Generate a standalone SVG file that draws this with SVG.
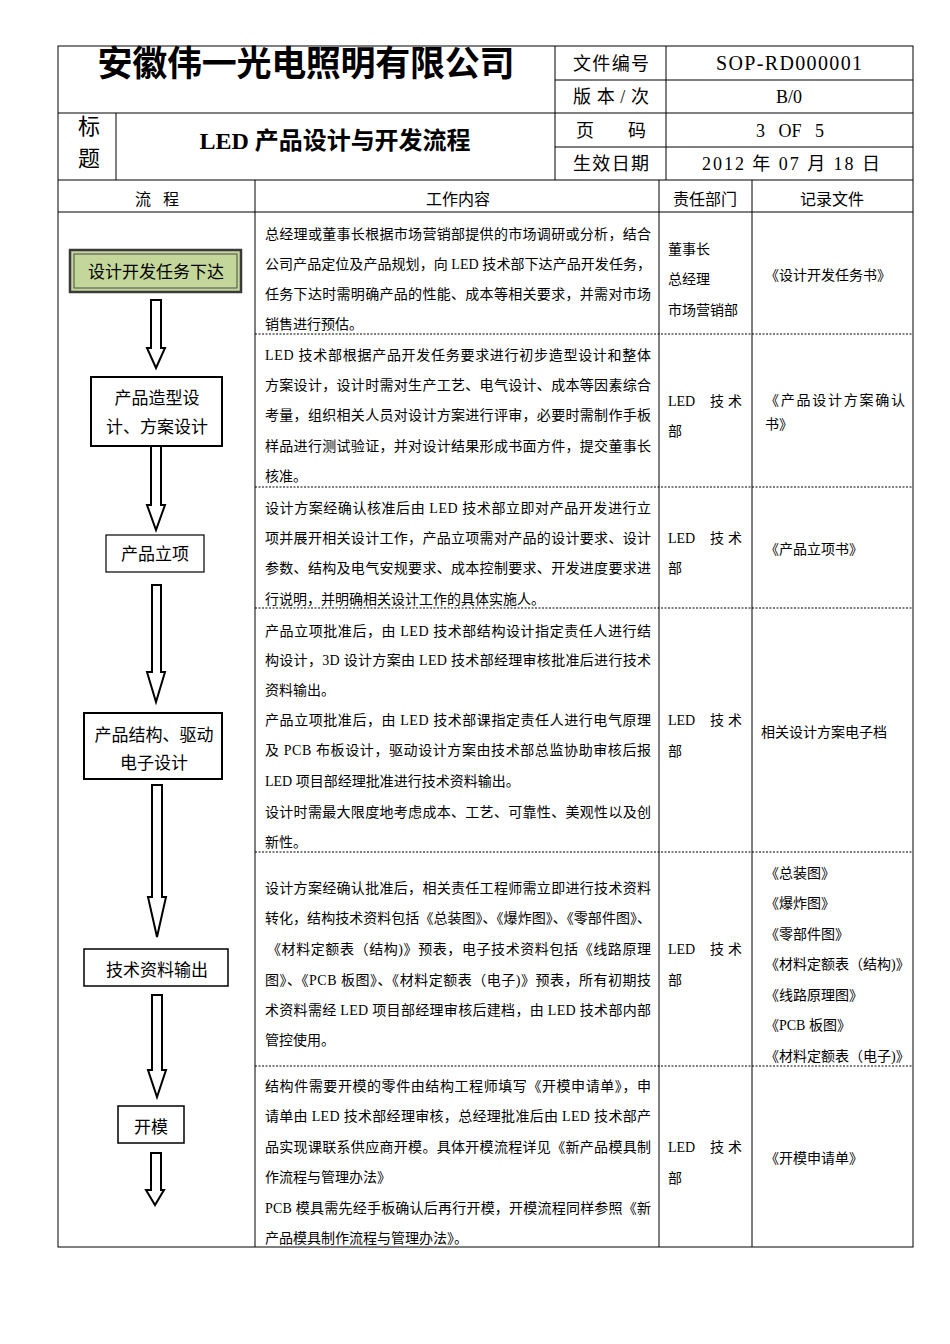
<svg xmlns="http://www.w3.org/2000/svg" width="950" height="1344" viewBox="0 0 950 1344">
<style>
.ln{stroke:#000;stroke-width:1;fill:none}
.dot{stroke:#000;stroke-width:1;stroke-dasharray:2,1.5;fill:none}
.t{font-family:"Liberation Serif","Noto Sans CJK SC",serif;font-size:14px;fill:#000}
.h{font-family:"Liberation Serif","Noto Sans CJK SC",serif;font-size:18px;fill:#000}
.hc{font-family:"Liberation Serif","Noto Sans CJK SC",serif;font-size:16px;fill:#000;text-anchor:middle}
.fb{font-family:"Noto Sans CJK SC","Noto Sans",sans-serif;font-size:17px;fill:#000;text-anchor:middle}
.box{fill:#fff;stroke:#000}
.arr{fill:#fff;stroke:#000;stroke-width:2;stroke-linejoin:miter}
</style>
<rect width="950" height="1344" fill="#fff"/>
<g id="table">
<rect class="ln" x="58" y="46" width="855" height="1201"/>
<line class="ln" x1="58" y1="113" x2="913" y2="113"/>
<line class="ln" x1="58" y1="180" x2="913" y2="180"/>
<line class="ln" x1="58" y1="212" x2="913" y2="212"/>
<line class="ln" x1="555" y1="46" x2="555" y2="180"/>
<line class="ln" x1="666" y1="46" x2="666" y2="180"/>
<line class="ln" x1="555" y1="80" x2="913" y2="80"/>
<line class="ln" x1="555" y1="147" x2="913" y2="147"/>
<line class="ln" x1="116" y1="113" x2="116" y2="180"/>
<line class="ln" x1="255" y1="180" x2="255" y2="1247"/>
<line class="ln" x1="659" y1="180" x2="659" y2="1247" stroke="#333"/>
<line class="ln" x1="752" y1="180" x2="752" y2="1247"/>
<line class="dot" x1="255" y1="334" x2="913" y2="334"/>
<line class="dot" x1="255" y1="487" x2="913" y2="487"/>
<line class="dot" x1="255" y1="608" x2="913" y2="608"/>
<line class="dot" x1="255" y1="852" x2="913" y2="852"/>
<line class="dot" x1="255" y1="1066" x2="913" y2="1066"/>
</g>
<g id="header">
<text x="306" y="76" font-family="Noto Sans CJK SC,sans-serif" font-size="35" font-weight="bold" text-anchor="middle" textLength="417">安徽伟一光电照明有限公司</text>
<text class="h" x="573" y="70" textLength="76">文件编号</text>
<text x="789" y="70" font-family="Liberation Serif,serif" font-size="20" text-anchor="middle" textLength="146">SOP-RD000001</text>
<text class="h" x="573" y="103" textLength="76">版本/次</text>
<text class="h" x="789" y="103" text-anchor="middle">B/0</text>
<text class="h" x="576" y="137" textLength="70">页    码</text>
<text class="h" x="790" y="137" text-anchor="middle" xml:space="preserve">3   OF   5</text>
<text class="h" x="573" y="170" textLength="76">生效日期</text>
<text class="h" x="791" y="170" text-anchor="middle" textLength="178">2012 年 07 月  18 日</text>
<text x="89" y="134" font-family="Liberation Serif,Noto Sans CJK SC,serif" font-size="22" text-anchor="middle">标</text>
<text x="89" y="166" font-family="Liberation Serif,Noto Sans CJK SC,serif" font-size="22" text-anchor="middle">题</text>
<text x="335" y="149" font-family="Liberation Serif,Noto Sans CJK SC,serif" font-size="24" font-weight="bold" text-anchor="middle" textLength="271">LED 产品设计与开发流程</text>
<text class="hc" x="157" y="205" xml:space="preserve">流   程</text>
<text class="hc" x="458" y="205">工作内容</text>
<text class="hc" x="705" y="205">责任部门</text>
<text class="hc" x="832" y="205">记录文件</text>
</g>
<g id="connectors">
<polygon class="arr" points="151,300 161,300 161,348 165,348 156,368 147,348 151,348"/>
<polygon class="arr" points="151,446 161,446 161,505 165,505 156,530 147,505 151,505"/>
<polygon class="arr" points="152,585 161,585 161,672 165,672 156,702 147,672 152,672"/>
<polygon class="arr" points="152,785 162,785 162,897 166,897 157,937 148,897 152,897"/>
<polygon class="arr" points="152,995 162,995 162,1070 166,1070 157,1097 148,1070 152,1070"/>
<polygon class="arr" points="151,1153 161,1153 161,1190 164,1190 155,1205 146,1190 151,1190"/>
</g>
<g id="n1">
<rect x="70" y="250" width="171" height="42" fill="#c4d79b" stroke="#3a3a3a" stroke-width="2.5"/>
<rect x="74" y="254" width="163" height="34" fill="none" stroke="#4a4a4a" stroke-width="1"/>
<text class="fb" x="156" y="278">设计开发任务下达</text>
</g>
<g id="n2">
<rect class="box" x="91" y="377" width="131" height="69" stroke-width="2"/>
<text class="fb" x="157" y="404">产品造型设</text>
<text class="fb" x="157" y="433">计、方案设计</text>
</g>
<g id="n3">
<rect class="box" x="106" y="535" width="98" height="37" stroke-width="1.2"/>
<text class="fb" x="155" y="560">产品立项</text>
</g>
<g id="n4">
<rect class="box" x="84" y="713" width="138" height="66" stroke-width="2"/>
<text class="fb" x="154" y="741">产品结构、驱动</text>
<text class="fb" x="154" y="769">电子设计</text>
</g>
<g id="n5">
<rect class="box" x="84" y="949" width="144" height="37" stroke-width="1.5"/>
<text class="fb" x="157" y="976">技术资料输出</text>
</g>
<g id="n6">
<rect class="box" x="118" y="1106" width="66" height="37" stroke-width="1.5"/>
<text class="fb" x="151" y="1133">开模</text>
</g>
<g id="content">
<text class="t" x="265" y="239" textLength="386">总经理或董事长根据市场营销部提供的市场调研或分析，结合</text>
<text class="t" x="265" y="269" textLength="386">公司产品定位及产品规划，向 LED 技术部下达产品开发任务，</text>
<text class="t" x="265" y="299" textLength="386">任务下达时需明确产品的性能、成本等相关要求，并需对市场</text>
<text class="t" x="265" y="329">销售进行预估。</text>
<text class="t" x="265" y="360" textLength="386">LED 技术部根据产品开发任务要求进行初步造型设计和整体</text>
<text class="t" x="265" y="390" textLength="386">方案设计，设计时需对生产工艺、电气设计、成本等因素综合</text>
<text class="t" x="265" y="420" textLength="386">考量，组织相关人员对设计方案进行评审，必要时需制作手板</text>
<text class="t" x="265" y="451" textLength="386">样品进行测试验证，并对设计结果形成书面方件，提交董事长</text>
<text class="t" x="265" y="481">核准。</text>
<text class="t" x="265" y="513" textLength="386">设计方案经确认核准后由 LED 技术部立即对产品开发进行立</text>
<text class="t" x="265" y="543" textLength="386">项并展开相关设计工作，产品立项需对产品的设计要求、设计</text>
<text class="t" x="265" y="573" textLength="386">参数、结构及电气安规要求、成本控制要求、开发进度要求进</text>
<text class="t" x="265" y="604">行说明，并明确相关设计工作的具体实施人。</text>
<text class="t" x="265" y="636" textLength="386">产品立项批准后，由 LED 技术部结构设计指定责任人进行结</text>
<text class="t" x="265" y="665" textLength="386">构设计，3D 设计方案由 LED 技术部经理审核批准后进行技术</text>
<text class="t" x="265" y="695">资料输出。</text>
<text class="t" x="265" y="725" textLength="386">产品立项批准后，由 LED 技术部课指定责任人进行电气原理</text>
<text class="t" x="265" y="755" textLength="386">及 PCB 布板设计，驱动设计方案由技术部总监协助审核后报</text>
<text class="t" x="265" y="786">LED 项目部经理批准进行技术资料输出。</text>
<text class="t" x="265" y="817" textLength="386">设计时需最大限度地考虑成本、工艺、可靠性、美观性以及创</text>
<text class="t" x="265" y="847">新性。</text>
<text class="t" x="265" y="893" textLength="386">设计方案经确认批准后，相关责任工程师需立即进行技术资料</text>
<text class="t" x="265" y="923" textLength="386">转化，结构技术资料包括《总装图》、《爆炸图》、《零部件图》、</text>
<text class="t" x="267" y="954" textLength="384">《材料定额表（结构)》预表，电子技术资料包括《线路原理</text>
<text class="t" x="265" y="985" textLength="386">图》、《PCB 板图》、《材料定额表（电子)》预表，所有初期技</text>
<text class="t" x="265" y="1015" textLength="386">术资料需经 LED 项目部经理审核后建档，由 LED 技术部内部</text>
<text class="t" x="265" y="1045">管控使用。</text>
<text class="t" x="265" y="1091" textLength="386">结构件需要开模的零件由结构工程师填写《开模申请单》，申</text>
<text class="t" x="265" y="1121" textLength="386">请单由 LED 技术部经理审核，总经理批准后由 LED 技术部产</text>
<text class="t" x="265" y="1152" textLength="386">品实现课联系供应商开模。具体开模流程详见《新产品模具制</text>
<text class="t" x="265" y="1182">作流程与管理办法》</text>
<text class="t" x="265" y="1213" textLength="386">PCB 模具需先经手板确认后再行开模，开模流程同样参照《新</text>
<text class="t" x="265" y="1243">产品模具制作流程与管理办法》。</text>
</g>
<g id="dept">
<text class="t" x="668" y="254">董事长</text>
<text class="t" x="668" y="284">总经理</text>
<text class="t" x="668" y="315">市场营销部</text>
<text class="t" y="406"><tspan x="668">LED</tspan><tspan x="710">技</tspan><tspan x="728">术</tspan></text>
<text class="t" x="668" y="436">部</text>
<text class="t" y="543"><tspan x="668">LED</tspan><tspan x="710">技</tspan><tspan x="728">术</tspan></text>
<text class="t" x="668" y="573">部</text>
<text class="t" y="725"><tspan x="668">LED</tspan><tspan x="710">技</tspan><tspan x="728">术</tspan></text>
<text class="t" x="668" y="756">部</text>
<text class="t" y="954"><tspan x="668">LED</tspan><tspan x="710">技</tspan><tspan x="728">术</tspan></text>
<text class="t" x="668" y="985">部</text>
<text class="t" y="1152"><tspan x="668">LED</tspan><tspan x="710">技</tspan><tspan x="728">术</tspan></text>
<text class="t" x="668" y="1183">部</text>
</g>
<g id="records">
<text class="t" x="765" y="280">《设计开发任务书》</text>
<text class="t" x="765" y="405" textLength="140">《产品设计方案确认</text>
<text class="t" x="765" y="429">书》</text>
<text class="t" x="765" y="554">《产品立项书》</text>
<text class="t" x="761" y="737">相关设计方案电子档</text>
<text class="t" x="765" y="878">《总装图》</text>
<text class="t" x="765" y="908">《爆炸图》</text>
<text class="t" x="765" y="939">《零部件图》</text>
<text class="t" x="765" y="969">《材料定额表（结构)》</text>
<text class="t" x="765" y="1000">《线路原理图》</text>
<text class="t" x="765" y="1030">《PCB 板图》</text>
<text class="t" x="765" y="1061">《材料定额表（电子)》</text>
<text class="t" x="765" y="1163">《开模申请单》</text>
</g>
</svg>
